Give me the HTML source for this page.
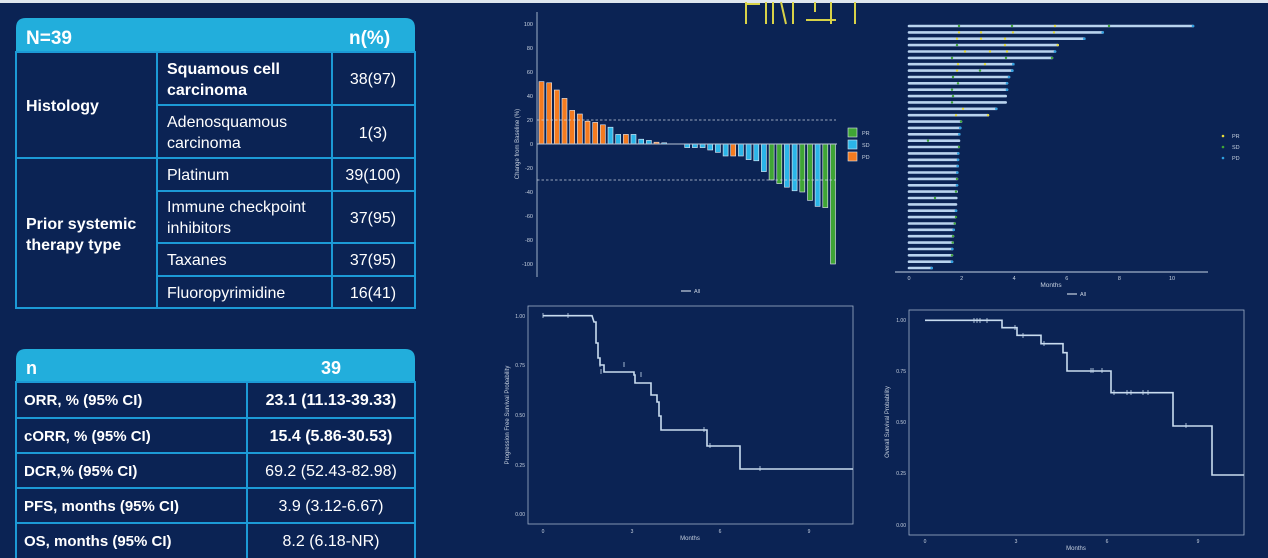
<!DOCTYPE html>
<html><head><meta charset="utf-8"><style>
html,body{margin:0;padding:0;background:#0b2354;}
svg{display:block;font-family:"Liberation Sans",sans-serif;}
</style></head><body>
<svg width="1268" height="558" viewBox="0 0 1268 558" xmlns="http://www.w3.org/2000/svg">
<rect width="1268" height="558" fill="#0b2354"/>
<rect width="1268" height="3" fill="#dfe6ee"/>

<!-- TABLE 1 -->
<path d="M16,52 V28 Q16,18 26,18 H405 Q415,18 415,28 V52 Z" fill="#22aedc"/>
<g fill="none" stroke="#1c9ad6" stroke-width="2">
<rect x="16" y="52" width="399" height="256"/>
<line x1="157" y1="52" x2="157" y2="308"/><line x1="332" y1="52" x2="332" y2="308"/>
<line x1="157" y1="105" x2="415" y2="105"/><line x1="16" y1="158" x2="415" y2="158"/>
<line x1="157" y1="191" x2="415" y2="191"/><line x1="157" y1="243" x2="415" y2="243"/>
<line x1="157" y1="276" x2="415" y2="276"/>
</g>
<g fill="#fff" font-size="16">
<text x="26" y="44" font-weight="bold" font-size="19">N=39</text>
<text x="349" y="44" font-weight="bold" font-size="19">n(%)</text>
<text x="26" y="111" font-weight="bold">Histology</text>
<text x="26" y="229" font-weight="bold">Prior systemic</text>
<text x="26" y="250" font-weight="bold">therapy type</text>
<text x="167" y="74" font-weight="bold">Squamous cell</text>
<text x="167" y="95" font-weight="bold">carcinoma</text>
<text x="167" y="127">Adenosquamous</text>
<text x="167" y="148">carcinoma</text>
<text x="167" y="180">Platinum</text>
<text x="167" y="212">Immune checkpoint</text>
<text x="167" y="233">inhibitors</text>
<text x="167" y="265">Taxanes</text>
<text x="167" y="298">Fluoropyrimidine</text>
<g text-anchor="middle">
<text x="373" y="84">38(97)</text><text x="373" y="138">1(3)</text>
<text x="373" y="180">39(100)</text><text x="373" y="223">37(95)</text>
<text x="373" y="265">37(95)</text><text x="373" y="298">16(41)</text>
</g></g>

<!-- TABLE 2 -->
<path d="M16,382 V359 Q16,349 26,349 H405 Q415,349 415,359 V382 Z" fill="#22aedc"/>
<g fill="none" stroke="#1c9ad6" stroke-width="2">
<rect x="16" y="382" width="399" height="190"/>
<line x1="247" y1="382" x2="247" y2="558"/>
<line x1="16" y1="418" x2="415" y2="418"/><line x1="16" y1="453" x2="415" y2="453"/>
<line x1="16" y1="488" x2="415" y2="488"/><line x1="16" y1="523" x2="415" y2="523"/>
</g>
<g fill="#fff" font-size="15">
<text x="26" y="374" font-weight="bold" font-size="18">n</text>
<text x="331" y="374" font-weight="bold" font-size="18" text-anchor="middle">39</text>
<g font-weight="bold">
<text x="24" y="405">ORR, % (95% CI)</text><text x="24" y="441">cORR, % (95% CI)</text>
<text x="24" y="476">DCR,% (95% CI)</text><text x="24" y="511">PFS, months (95% CI)</text>
<text x="24" y="546">OS, months (95% CI)</text>
</g>
<g text-anchor="middle" font-size="16">
<text x="331" y="405" font-weight="bold">23.1 (11.13-39.33)</text>
<text x="331" y="441" font-weight="bold">15.4 (5.86-30.53)</text>
<text x="331" y="476">69.2 (52.43-82.98)</text>
<text x="331" y="511">3.9 (3.12-6.67)</text>
<text x="331" y="546">8.2 (6.18-NR)</text>
</g></g>

<!-- yellow strokes top -->
<g stroke="#d8d248" stroke-width="2" fill="none">
<line x1="746" y1="2" x2="746" y2="24"/><line x1="746" y1="4" x2="760" y2="4"/>
<line x1="766" y1="2" x2="766" y2="24"/><line x1="773" y1="2" x2="773" y2="24"/>
<line x1="781" y1="2" x2="786" y2="24"/><line x1="793" y1="2" x2="793" y2="24"/>
<line x1="806" y1="20" x2="836" y2="20"/><line x1="815" y1="2" x2="815" y2="12"/>
<line x1="831" y1="2" x2="831" y2="24"/><line x1="855" y1="2" x2="855" y2="24"/>
</g>

<!-- WATERFALL -->
<g stroke="#9fb0c8" stroke-width="1"><line x1="537" y1="12" x2="537" y2="277"/></g>
<g fill="#c8d2e0" font-size="5.5" text-anchor="end">
<text x="533" y="26">100</text><text x="533" y="50">80</text><text x="533" y="74">60</text>
<text x="533" y="98">40</text><text x="533" y="122">20</text><text x="533" y="146">0</text>
<text x="533" y="170">-20</text><text x="533" y="194">-40</text><text x="533" y="218">-60</text>
<text x="533" y="242">-80</text><text x="533" y="266">-100</text>
</g>
<text x="519" y="144" fill="#c8d2e0" font-size="6" text-anchor="middle" transform="rotate(-90 519 144)">Change from Baseline (%)</text>
<g stroke="#e6ecf3" stroke-width="0.6">
<g fill="#f47b20">
<rect x="539" y="81.6" width="5" height="62.4"/><rect x="546.7" y="82.8" width="5" height="61.2"/>
<rect x="554.3" y="90" width="5" height="54"/><rect x="562" y="98.4" width="5" height="45.6"/>
<rect x="569.7" y="110.4" width="5" height="33.6"/><rect x="577.4" y="114" width="5" height="30"/>
<rect x="585" y="121.2" width="5" height="22.8"/><rect x="592.7" y="122.4" width="5" height="21.6"/>
<rect x="600.4" y="124.8" width="5" height="19.2"/><rect x="623.4" y="134.4" width="5" height="9.6"/>
<rect x="654" y="142.2" width="5" height="1.8"/><rect x="730.7" y="144" width="5" height="12"/>
</g>
<g fill="#2bb5e8">
<rect x="608" y="127.2" width="5" height="16.8"/><rect x="615.7" y="134.4" width="5" height="9.6"/>
<rect x="631" y="134.4" width="5" height="9.6"/><rect x="638.7" y="139.2" width="5" height="4.8"/>
<rect x="646.4" y="140.4" width="5" height="3.6"/><rect x="661.7" y="142.8" width="5" height="1.2"/>
<rect x="684.7" y="144" width="5" height="3.6"/><rect x="692.4" y="144" width="5" height="3.6"/>
<rect x="700.1" y="144" width="5" height="3.6"/><rect x="707.7" y="144" width="5" height="6"/>
<rect x="715.4" y="144" width="5" height="8.4"/><rect x="723.1" y="144" width="5" height="12"/>
<rect x="738.4" y="144" width="5" height="12"/><rect x="746.1" y="144" width="5" height="15.6"/>
<rect x="753.8" y="144" width="5" height="16.8"/><rect x="761.4" y="144" width="5" height="27.6"/>
<rect x="784.4" y="144" width="5" height="43.2"/><rect x="792.1" y="144" width="5" height="46.8"/>
<rect x="815.1" y="144" width="5" height="62.4"/>
</g>
<g fill="#3fa535">
<rect x="769.1" y="144" width="5" height="36"/><rect x="776.8" y="144" width="5" height="39.6"/>
<rect x="799.8" y="144" width="5" height="48"/><rect x="807.5" y="144" width="5" height="56.4"/>
<rect x="822.8" y="144" width="5" height="63.6"/><rect x="830.5" y="144" width="5" height="120"/>
</g>
</g>
<line x1="537" y1="144" x2="837" y2="144" stroke="#b8c4d6" stroke-width="1"/>
<g stroke="#c8d2e0" stroke-width="0.8" stroke-dasharray="2.5,2">
<line x1="537" y1="120" x2="836" y2="120"/><line x1="537" y1="180" x2="836" y2="180"/>
</g>
<g stroke="#dfe6ee" stroke-width="0.6">
<rect x="848" y="128" width="9" height="9" fill="#3fa535"/>
<rect x="848" y="140" width="9" height="9" fill="#2bb5e8"/>
<rect x="848" y="152" width="9" height="9" fill="#f47b20"/>
</g>
<g fill="#c8d2e0" font-size="5.5">
<text x="862" y="135">PR</text><text x="862" y="147">SD</text><text x="862" y="159">PD</text>
<text x="694" y="293">All</text>
</g>
<line x1="681" y1="291" x2="691" y2="291" stroke="#c8d2e0" stroke-width="1.2"/>

<!-- SWIMMER -->
<g stroke="#b9d3ee" stroke-width="2.6" stroke-linecap="round">
<line x1="909" y1="26" x2="1193" y2="26"/><line x1="909" y1="32.4" x2="1102.7" y2="32.4"/>
<line x1="909" y1="38.7" x2="1084.3" y2="38.7"/><line x1="909" y1="45.1" x2="1057.7" y2="45.1"/>
<line x1="909" y1="51.5" x2="1055" y2="51.5"/><line x1="909" y1="57.9" x2="1052" y2="57.9"/>
<line x1="909" y1="64.2" x2="1013.3" y2="64.2"/><line x1="909" y1="70.6" x2="1012.3" y2="70.6"/>
<line x1="909" y1="77" x2="1009" y2="77"/><line x1="909" y1="83.3" x2="1007" y2="83.3"/>
<line x1="909" y1="89.7" x2="1007" y2="89.7"/><line x1="909" y1="96.1" x2="1005.7" y2="96.1"/>
<line x1="909" y1="102.4" x2="1005.7" y2="102.4"/><line x1="909" y1="108.8" x2="996.3" y2="108.8"/>
<line x1="909" y1="115.2" x2="988" y2="115.2"/><line x1="909" y1="121.6" x2="961" y2="121.6"/>
<line x1="909" y1="127.9" x2="960.3" y2="127.9"/><line x1="909" y1="134.3" x2="959.3" y2="134.3"/>
<line x1="909" y1="140.7" x2="959" y2="140.7"/><line x1="909" y1="147" x2="958.7" y2="147"/>
<line x1="909" y1="153.4" x2="958.3" y2="153.4"/><line x1="909" y1="159.8" x2="958" y2="159.8"/>
<line x1="909" y1="166.1" x2="957.7" y2="166.1"/><line x1="909" y1="172.5" x2="957.3" y2="172.5"/>
<line x1="909" y1="178.9" x2="957" y2="178.9"/><line x1="909" y1="185.3" x2="957" y2="185.3"/>
<line x1="909" y1="191.6" x2="956.7" y2="191.6"/><line x1="909" y1="198" x2="956.3" y2="198"/>
<line x1="909" y1="204.4" x2="956" y2="204.4"/><line x1="909" y1="210.7" x2="956" y2="210.7"/>
<line x1="909" y1="217.1" x2="955" y2="217.1"/><line x1="909" y1="223.5" x2="954.7" y2="223.5"/>
<line x1="909" y1="229.8" x2="953.7" y2="229.8"/><line x1="909" y1="236.2" x2="953" y2="236.2"/>
<line x1="909" y1="242.6" x2="952.7" y2="242.6"/><line x1="909" y1="249" x2="952.3" y2="249"/>
<line x1="909" y1="255.3" x2="952" y2="255.3"/><line x1="909" y1="261.7" x2="952" y2="261.7"/>
<line x1="909" y1="268" x2="931.7" y2="268"/>
</g>
<g fill="#2f9fe0">
<circle cx="1193" cy="26" r="1.3"/><circle cx="1102.7" cy="32.4" r="1.3"/><circle cx="1084.3" cy="38.7" r="1.3"/>
<circle cx="1055" cy="51.5" r="1.3"/><circle cx="1013.3" cy="64.2" r="1.3"/><circle cx="1012.3" cy="70.6" r="1.3"/>
<circle cx="1009" cy="77" r="1.3"/><circle cx="1007" cy="83.3" r="1.3"/><circle cx="1007" cy="89.7" r="1.3"/>
<circle cx="996.3" cy="108.8" r="1.3"/><circle cx="960.3" cy="127.9" r="1.3"/><circle cx="959.3" cy="134.3" r="1.3"/>
<circle cx="958.3" cy="153.4" r="1.3"/><circle cx="958" cy="159.8" r="1.3"/><circle cx="957.7" cy="166.1" r="1.3"/>
<circle cx="957.3" cy="172.5" r="1.3"/><circle cx="957" cy="185.3" r="1.3"/><circle cx="956" cy="210.7" r="1.3"/>
<circle cx="953.7" cy="229.8" r="1.3"/><circle cx="952.3" cy="249" r="1.3"/><circle cx="952" cy="261.7" r="1.3"/>
<circle cx="931.7" cy="268" r="1.3"/>
</g>
<g fill="#3fa535">
<circle cx="959" cy="26" r="1.2"/><circle cx="1012" cy="26" r="1.2"/><circle cx="1109" cy="26" r="1.2"/>
<circle cx="957" cy="45.1" r="1.2"/><circle cx="952" cy="57.9" r="1.2"/><circle cx="1006" cy="57.9" r="1.2"/>
<circle cx="1052" cy="57.9" r="1.2"/><circle cx="980" cy="70.6" r="1.2"/><circle cx="953" cy="77" r="1.2"/>
<circle cx="958" cy="83.3" r="1.2"/><circle cx="952" cy="89.7" r="1.2"/><circle cx="953" cy="96.1" r="1.2"/>
<circle cx="952" cy="102.4" r="1.2"/><circle cx="961" cy="121.6" r="1.2"/><circle cx="928" cy="140.7" r="1.2"/>
<circle cx="959" cy="147" r="1.2"/><circle cx="957" cy="178.9" r="1.2"/><circle cx="935" cy="198" r="1.2"/>
<circle cx="956" cy="191.6" r="1.2"/><circle cx="956" cy="217.1" r="1.2"/><circle cx="954.7" cy="223.5" r="1.2"/>
<circle cx="953" cy="236.2" r="1.2"/><circle cx="952.7" cy="242.6" r="1.2"/><circle cx="952" cy="255.3" r="1.2"/>
</g>
<g fill="#e8dc3a">
<circle cx="1055" cy="26" r="1.2"/><circle cx="959" cy="32.4" r="1.2"/><circle cx="981" cy="32.4" r="1.2"/>
<circle cx="1013" cy="32.4" r="1.2"/><circle cx="1054" cy="32.4" r="1.2"/><circle cx="957" cy="38.7" r="1.2"/>
<circle cx="981" cy="38.7" r="1.2"/><circle cx="1005" cy="38.7" r="1.2"/><circle cx="1005" cy="45.1" r="1.2"/>
<circle cx="1057.7" cy="45.1" r="1.2"/><circle cx="965" cy="51.5" r="1.2"/><circle cx="990" cy="51.5" r="1.2"/>
<circle cx="1007" cy="51.5" r="1.2"/><circle cx="958" cy="64.2" r="1.2"/><circle cx="985" cy="64.2" r="1.2"/>
<circle cx="957" cy="70.6" r="1.2"/><circle cx="963" cy="108.8" r="1.2"/><circle cx="956" cy="115.2" r="1.2"/>
<circle cx="988" cy="115.2" r="1.2"/>
</g>
<line x1="895" y1="272" x2="1208" y2="272" stroke="#9fb0c8" stroke-width="1.2"/>
<g fill="#c8d2e0" font-size="5.5" text-anchor="middle">
<text x="909" y="280">0</text><text x="961.6" y="280">2</text><text x="1014.2" y="280">4</text>
<text x="1066.8" y="280">6</text><text x="1119.4" y="280">8</text><text x="1172" y="280">10</text>
<text x="1051" y="287" font-size="6.5">Months</text>
</g>
<line x1="1067" y1="294" x2="1077" y2="294" stroke="#c8d2e0" stroke-width="1.2"/>
<text x="1080" y="296" fill="#c8d2e0" font-size="5.5">All</text>
<circle cx="1223" cy="136" r="1.3" fill="#e8dc3a"/><circle cx="1223" cy="147" r="1.3" fill="#3fa535"/><circle cx="1223" cy="158" r="1.3" fill="#2f9fe0"/>
<g fill="#c8d2e0" font-size="5.5"><text x="1232" y="138">PR</text><text x="1232" y="149">SD</text><text x="1232" y="160">PD</text></g>

<!-- PFS KM -->
<rect x="528" y="306" width="325" height="218" fill="none" stroke="#9fb0c8" stroke-width="0.8"/>
<g fill="#c8d2e0" font-size="5" text-anchor="end">
<text x="525" y="318">1.00</text><text x="525" y="367">0.75</text><text x="525" y="417">0.50</text>
<text x="525" y="467">0.25</text><text x="525" y="516">0.00</text>
</g>
<g fill="#c8d2e0" font-size="5" text-anchor="middle">
<text x="543" y="533">0</text><text x="632" y="533">3</text><text x="720" y="533">6</text><text x="809" y="533">9</text>
<text x="690" y="540" font-size="6">Months</text>
</g>
<text x="509" y="415" fill="#c8d2e0" font-size="6" text-anchor="middle" transform="rotate(-90 509 415)">Progression Free Survival Probability</text>
<polyline fill="none" stroke="#c9dcef" stroke-width="1.6" points="543,315.7 592,315.7 594,322 596,322 596,343 598,343 598,358 600,358 600,365 604,365 604,372 634,372 634,375 635,375 635,383 651,383 651,395 657,395 657,402 659,402 659,416 661,416 661,430 707,430 707,446 740,446 740,469 853,469"/>
<g stroke="#c9dcef" stroke-width="0.8">
<line x1="543" y1="313" x2="543" y2="318"/><line x1="568" y1="313" x2="568" y2="318"/>
<line x1="600" y1="362" x2="600" y2="367"/><line x1="601" y1="369" x2="601" y2="374"/>
<line x1="624" y1="362" x2="624" y2="367"/><line x1="641" y1="372" x2="641" y2="377"/>
<line x1="704" y1="427" x2="704" y2="432"/><line x1="710" y1="443" x2="710" y2="448"/>
<line x1="760" y1="466" x2="760" y2="471"/>
</g>

<!-- OS KM -->
<rect x="909" y="310" width="335" height="225" fill="none" stroke="#9fb0c8" stroke-width="0.8"/>
<g fill="#c8d2e0" font-size="5" text-anchor="end">
<text x="906" y="322">1.00</text><text x="906" y="373">0.75</text><text x="906" y="424">0.50</text>
<text x="906" y="475">0.25</text><text x="906" y="527">0.00</text>
</g>
<g fill="#c8d2e0" font-size="5" text-anchor="middle">
<text x="925" y="543">0</text><text x="1016" y="543">3</text><text x="1107" y="543">6</text><text x="1198" y="543">9</text>
<text x="1076" y="550" font-size="6">Months</text>
</g>
<text x="889" y="422" fill="#c8d2e0" font-size="6" text-anchor="middle" transform="rotate(-90 889 422)">Overall Survival Probability</text>
<polyline fill="none" stroke="#c9dcef" stroke-width="1.6" points="925,320.3 1002,320.3 1002,327.7 1017,327.7 1017,335.3 1041,335.3 1041,343.7 1063,343.7 1063,352.7 1067,352.7 1067,371 1111,371 1111,392.7 1173,392.7 1173,426 1212,426 1212,475 1244,475"/>
<g stroke="#c9dcef" stroke-width="0.8">
<line x1="974" y1="318" x2="974" y2="323"/><line x1="977" y1="318" x2="977" y2="323"/><line x1="980" y1="318" x2="980" y2="323"/><line x1="987" y1="318" x2="987" y2="323"/>
<line x1="1015" y1="325" x2="1015" y2="330"/><line x1="1023" y1="333" x2="1023" y2="338"/>
<line x1="1044" y1="341" x2="1044" y2="346"/><line x1="1091" y1="368" x2="1091" y2="373"/><line x1="1093" y1="368" x2="1093" y2="373"/>
<line x1="1102" y1="368" x2="1102" y2="373"/><line x1="1114" y1="390" x2="1114" y2="395"/>
<line x1="1127" y1="390" x2="1127" y2="395"/><line x1="1131" y1="390" x2="1131" y2="395"/>
<line x1="1143" y1="390" x2="1143" y2="395"/><line x1="1148" y1="390" x2="1148" y2="395"/>
<line x1="1186" y1="423" x2="1186" y2="428"/>
</g>
</svg>
</body></html>
